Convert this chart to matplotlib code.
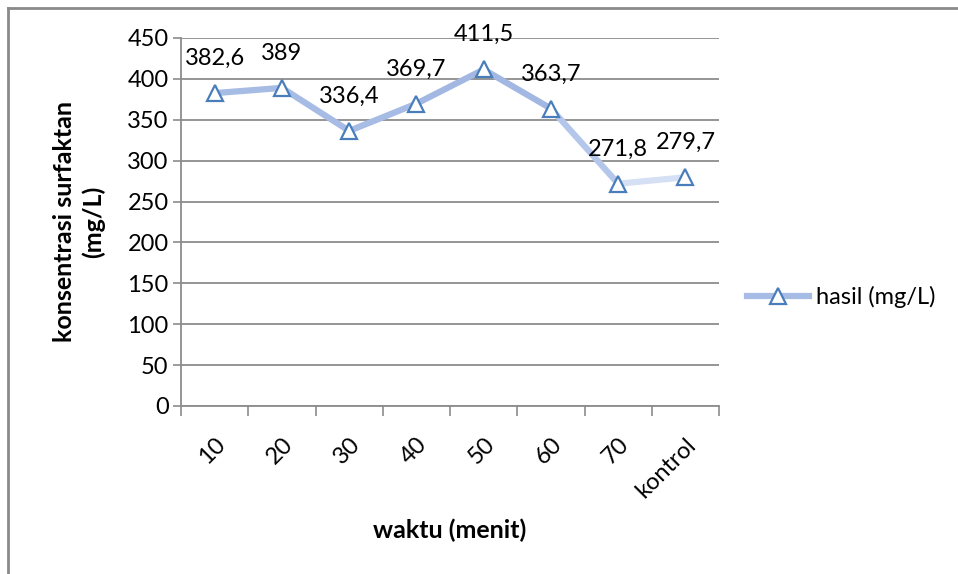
import matplotlib
matplotlib.use('Agg')
import matplotlib.pyplot as plt
from matplotlib.lines import Line2D

# data
categories = ['10', '20', '30', '40', '50', '60', '70', 'kontrol']
hasil = [382.6, 389, 336.4, 369.7, 411.5, 363.7, 271.8, 279.7]
value_labels = ['382,6', '389', '336,4', '369,7', '411,5', '363,7', '271,8', '279,7']
y_ticks = [0, 50, 100, 150, 200, 250, 300, 350, 400, 450]

# line fades lighter towards the low right part (excel gradient line)
seg_colors = ['#A6BCE5', '#A6BCE5', '#A6BCE5', '#A2B8E2', '#A2B8E2', '#B4C6EA', '#D6E0F4']
marker_edge = '#4A7EBB'
grid_col = '#8C8C8C'
fs = 17

plt.rcParams['font.family'] = ['Lato', 'DejaVu Sans']

fig = plt.figure(figsize=(9.58, 5.74), dpi=100)
ax = fig.add_axes([0.189, 0.2927, 0.5616, 0.6411])

x = list(range(len(categories)))
for i in range(len(x) - 1):
    ax.plot(x[i:i + 2], hasil[i:i + 2], color=seg_colors[i], lw=4.5,
            solid_capstyle='round', zorder=2)
ax.plot(x, hasil, ls='none', marker='^', ms=12, mfc='white', mec=marker_edge,
        mew=1.6, zorder=3)

for xi, yi, lab in zip(x, hasil, value_labels):
    ax.annotate(lab, (xi, yi), xytext=(0, 25), textcoords='offset points',
                ha='center', va='center', fontsize=fs, color='black')

ax.set_xlim(-0.5, len(categories) - 0.5)
ax.set_ylim(0, 450)
ax.set_yticks(y_ticks)
ax.tick_params(axis='y', labelsize=fs, length=6, width=1.2, color=grid_col, pad=3)
ax.yaxis.grid(True, color=grid_col, lw=1.3)
ax.set_axisbelow(True)

# category boundaries get the tick marks, labels sit on the centres
ax.set_xticks([i - 0.5 for i in range(len(categories) + 1)])
ax.set_xticklabels([])
ax.set_xticks(x, minor=True)
ax.set_xticklabels(categories, minor=True, rotation=45, ha='right',
                   rotation_mode='anchor', fontsize=fs)
ax.tick_params(axis='x', which='major', length=7, width=1.2, color=grid_col)
ax.tick_params(axis='x', which='minor', length=0, pad=20)

for s in ['top', 'right']:
    ax.spines[s].set_visible(False)
for s in ['left', 'bottom']:
    ax.spines[s].set_color(grid_col)
    ax.spines[s].set_linewidth(1.3)

ax.set_ylabel('konsentrasi surfaktan\n(mg/L)', fontsize=18, fontweight='bold',
              labelpad=16, linespacing=1.3)
ax.set_xlabel('waktu (menit)', fontsize=18, fontweight='bold', labelpad=12)

handle = Line2D([0], [0], color='#A6BCE5', lw=4.5, marker='^', ms=12,
                mfc='white', mec=marker_edge, mew=1.6)
fig.legend([handle], ['hasil (mg/L)'], loc='center left',
           bbox_to_anchor=(0.758, 0.482), frameon=False, fontsize=fs,
           handlelength=2.6, handletextpad=0.3)

# outer chart frame (only left and top visible in the crop)
fig.add_artist(Line2D([0.0085, 0.0085], [0, 0.986], color='#8A8A8A', lw=2))
fig.add_artist(Line2D([0.0085, 1.0], [0.986, 0.986], color='#8A8A8A', lw=2))

plt.savefig('out.png', dpi=100)
print("saved out.png")
